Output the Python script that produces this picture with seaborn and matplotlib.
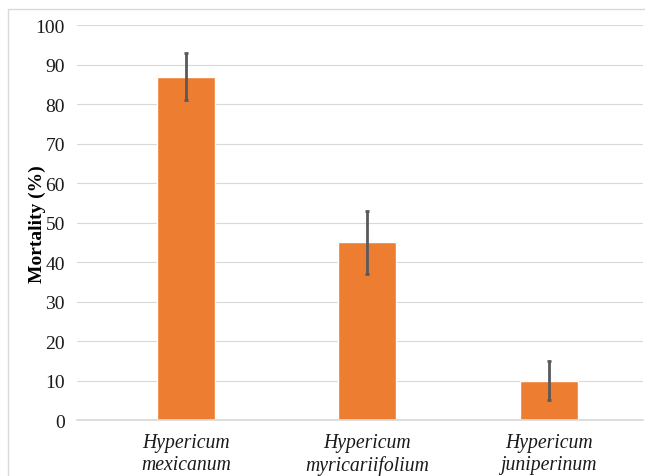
import matplotlib
matplotlib.use("Agg")
import matplotlib.pyplot as plt
import seaborn as sns
import pandas as pd
from matplotlib.patches import Rectangle

species = ["Hypericum\nmexicanum", "Hypericum\nmyricariifolium", "Hypericum\njuniperinum"]
mortality = [87, 45, 10]
err = [6, 8, 5]
y_ticks = list(range(0, 101, 10))

sns.set_theme(style="white")
plt.rcParams['font.family'] = ['Liberation Serif', 'DejaVu Serif']

df = pd.DataFrame({"species": species, "mortality": mortality})

fig = plt.figure(figsize=(6.45, 4.77), dpi=100)
ax = fig.add_axes([0.12, 0.117, 0.877, 0.828])

sns.barplot(data=df, x="species", y="mortality", color="#ED7D31",
            saturation=1, width=0.32, errorbar=None, ax=ax, zorder=2)
ax.errorbar(range(len(species)), mortality, yerr=err, fmt="none",
            ecolor="#595959", elinewidth=2, capsize=1.5, capthick=2, zorder=3)

ax.set_ylim(0, 100)
ax.set_xlim(-0.6, 2.52)
ax.set_yticks(y_ticks)
ax.tick_params(axis="y", labelsize=14, length=0, pad=9, labelcolor="#1a1a1a")
ax.tick_params(axis="x", labelsize=14.2, length=0, pad=9, labelcolor="#1a1a1a")
for lbl in ax.get_xticklabels():
    lbl.set_fontstyle("italic")
    lbl.set_linespacing(1.25)
ax.grid(axis="y", color="#D9D9D9", linewidth=0.8, zorder=0)
ax.set_axisbelow(True)
for s in ["top", "right", "left"]:
    ax.spines[s].set_visible(False)
ax.spines["bottom"].set_color("#D9D9D9")
ax.set_xlabel("")
ax.set_ylabel("Mortality (%)", fontsize=14, fontweight="bold", color="#000000")
ax.yaxis.set_label_coords(-0.055, 0.5)

fig.patches.append(Rectangle((0.012, -0.01), 1.0, 0.988, transform=fig.transFigure,
                             fill=False, edgecolor="#D9D9D9", linewidth=1))

fig.savefig("out.png", dpi=100)
